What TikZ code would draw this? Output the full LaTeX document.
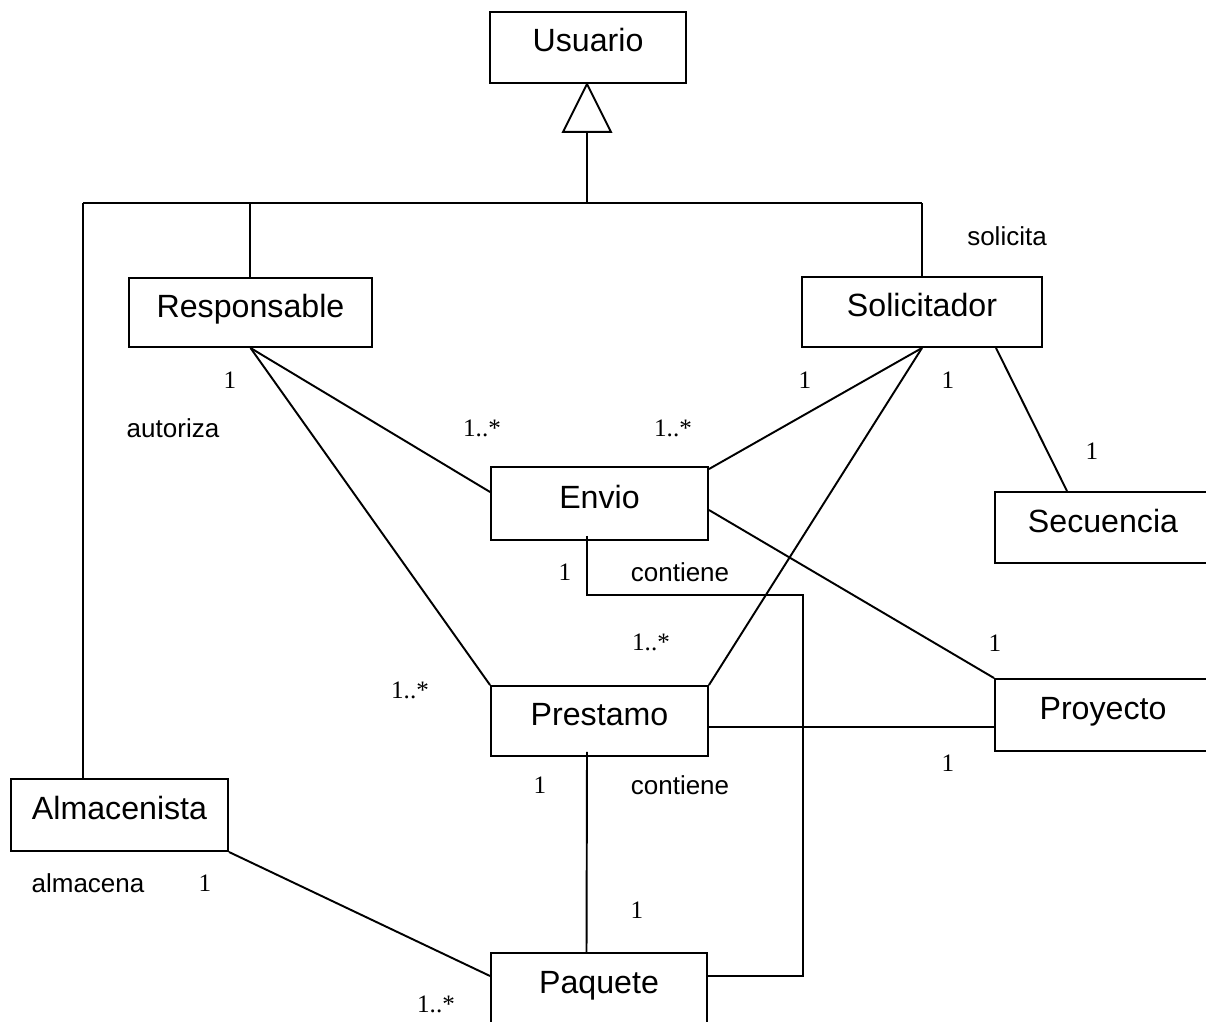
\documentclass[tikz,border=0pt]{standalone}
\usepackage{fontspec}
\setmainfont{Liberation Serif}
\newfontfamily\clsfont{Liberation Sans}
\begin{document}
\begin{tikzpicture}[x=0.02cm,y=-0.02cm,
  conn/.style={line width=1.1pt, line join=miter},
  cls/.style={draw, line width=1.1pt, inner sep=0pt, fill=white},
  clsname/.style={font=\clsfont\fontsize{18.3}{21}\selectfont, inner sep=0pt,
    text height=0.48cm, text depth=0.30cm},
  role/.style={font=\clsfont\fontsize{14.8}{17}\selectfont, inner sep=0pt},
  mult/.style={font=\fontsize{14.3}{16}\selectfont, inner sep=0pt}]
\useasboundingbox[fill=white] (0,0) rectangle (1206,1021);

% classes
\node[cls, minimum width=3.92cm, minimum height=1.42cm, label={[clsname]center:Usuario}] (usr) at (588,47.5) {};
\node[cls, minimum width=4.86cm, minimum height=1.38cm, label={[clsname]center:Responsable}] (resp) at (250.5,312.5) {};
\node[cls, minimum width=4.80cm, minimum height=1.40cm, label={[clsname]center:Solicitador}] (sol) at (922,312) {};
\node[cls, minimum width=4.34cm, minimum height=1.46cm, label={[clsname]center:Envio}] (envio) at (599.5,503.5) {};
\node[cls, minimum width=4.32cm, minimum height=1.42cm, label={[clsname]center:Secuencia}] (sec) at (1103,527.5) {};
\node[cls, minimum width=4.34cm, minimum height=1.40cm, label={[clsname]center:Prestamo}] (prest) at (599.5,721) {};
\node[cls, minimum width=4.32cm, minimum height=1.44cm, label={[clsname]center:Proyecto}] (proy) at (1103,715) {};
\node[cls, minimum width=4.34cm, minimum height=1.44cm, label={[clsname]center:Almacenista}] (alm) at (119.5,815) {};
\node[cls, minimum width=4.32cm, minimum height=1.44cm, label={[clsname]center:Paquete}] (paq) at (599,989) {};

% generalization tree
\coordinate (hub) at (587,203);
\coordinate (lcorner) at (83,203);
\draw[conn, fill=white] ([xshift=-0.02cm]usr.south) -- ++(-24,48) -- ++(48,0) -- cycle;
\draw[conn] ([xshift=-0.02cm,yshift=-0.96cm]usr.south) -- (hub);
\draw[conn] (lcorner) -- (sol.north |- hub);
\draw[conn] (lcorner) -- (lcorner |- alm.north);
\draw[conn] ([xshift=-0.01cm]resp.north) -- ([xshift=-0.01cm]resp.north |- hub);
\draw[conn] (sol.north) -- (sol.north |- hub);

% associations
\draw[conn] (resp.south) -- ([yshift=0.23cm]envio.west);
\draw[conn] (resp.south) -- (prest.north west);
\draw[conn] (sol.south) -- ([yshift=-0.06cm]envio.north east);
\draw[conn] (sol.south) -- (prest.north east);
\draw[conn] ([xshift=1.48cm]sol.south) -- ([xshift=-0.72cm]sec.north);
\draw[conn] ([yshift=-0.13cm]envio.east) -- (proy.north west);
\draw[conn] ([yshift=-0.12cm]prest.east) -- ([yshift=-0.12cm]prest.east -| proy.west);
\coordinate (bend) at (803,595);
\draw[conn] ([xshift=-0.25cm,yshift=0.1cm]envio.south) |- (bend) |- ([yshift=0.26cm]paq.east);
\draw[conn] ([xshift=-0.25cm,yshift=0.1cm]prest.south) -- ([xshift=-0.25cm]paq.north);
\draw[conn] (alm.south east) -- ([yshift=0.26cm]paq.west);

% role names
\node[role] (r1) at (1007,236) {solicita};
\node[role] (r2) at (173,428) {autoriza};
\node[role] (r3) at (680,572) {contiene};
\node[role] (r4) at (680,785) {contiene};
\node[role] (r5) at (88,883) {almacena};

% multiplicities
\node[mult] (m1) at (230,380) {1};
\node[mult] (m2) at (482,428) {1..*};
\node[mult] (m3) at (673,428) {1..*};
\node[mult] (m4) at (805,380) {1};
\node[mult] (m5) at (948,380) {1};
\node[mult] (m6) at (1092,451) {1};
\node[mult] (m7) at (565,572) {1};
\node[mult] (m8) at (651,642) {1..*};
\node[mult] (m9) at (995,643) {1};
\node[mult] (m10) at (410,690) {1..*};
\node[mult] (m11) at (948,763) {1};
\node[mult] (m12) at (540,785) {1};
\node[mult] (m13) at (205,883) {1};
\node[mult] (m14) at (637,910) {1};
\node[mult] (m15) at (436,1004) {1..*};
\end{tikzpicture}
\end{document}
